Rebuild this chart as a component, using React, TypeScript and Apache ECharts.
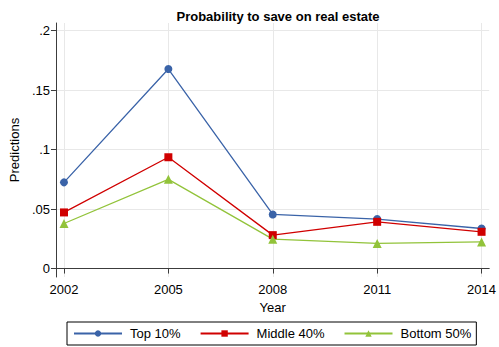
import React, { useEffect, useRef } from "react";
import * as echarts from "echarts";

const years = [2002, 2005, 2008, 2011, 2014];
const top10 = [0.0725, 0.1678, 0.0455, 0.0416, 0.0337];
const middle40 = [0.0472, 0.0936, 0.0281, 0.0393, 0.0309];
const bottom50 = [0.0379, 0.075, 0.0247, 0.0211, 0.0224];
const yTicks = [0, 0.05, 0.1, 0.15, 0.2];
const seriesNames = ["Top 10%", "Middle 40%", "Bottom 50%"];

const FONT = "'Liberation Sans', Arial, Helvetica, sans-serif";

export default function App() {
  const ref = useRef<HTMLDivElement>(null);
  useEffect(() => {
    if (!ref.current) return;
    const chart = echarts.init(ref.current, undefined, { renderer: "svg" });
    const mk = (vals: number[]) => years.map((y, i) => [y, vals[i]]);
    const fmtY = (v: number) => (v === 0 ? "0" : String(v).replace(/^0/, ""));
    chart.setOption({
      animation: false,
      backgroundColor: "#ffffff",
      textStyle: { fontFamily: FONT },
      title: {
        text: "Probability to save on real estate",
        left: 273,
        textAlign: "center",
        top: 5,
        textStyle: { fontSize: 13, fontWeight: "bold", color: "#000", fontFamily: FONT },
      },
      grid: { left: 55, right: 7, top: 23, bottom: 70, containLabel: false },
      xAxis: {
        type: "value",
        min: 2001.77,
        max: 2014.22,
        name: "Year",
        nameLocation: "middle",
        nameGap: 23,
        nameTextStyle: { fontSize: 13, color: "#000", fontFamily: FONT },
        axisLine: { show: true, lineStyle: { color: "#3c3c3c", width: 1 } },
        axisTick: { show: true, length: 5, inside: false, customValues: years, lineStyle: { color: "#3c3c3c" } },
        axisLabel: { customValues: years, fontSize: 13, color: "#000", margin: 6, fontFamily: FONT, formatter: (v: number) => String(v) },
        splitLine: { show: true, lineStyle: { color: "#e8e8e8", width: 1 } },
      },
      yAxis: {
        type: "value",
        min: -0.0071,
        max: 0.2065,
        name: "Predictions",
        nameLocation: "middle",
        nameRotate: 90,
        nameGap: 33,
        nameTextStyle: { fontSize: 13, color: "#000", fontFamily: FONT },
        axisLine: { show: true, lineStyle: { color: "#3c3c3c", width: 1 } },
        axisTick: { show: true, length: 5, inside: false, customValues: yTicks, lineStyle: { color: "#3c3c3c" } },
        axisLabel: { customValues: yTicks, fontSize: 13, color: "#000", margin: 6, formatter: fmtY, fontFamily: FONT },
        splitLine: { show: true, lineStyle: { color: "#e8e8e8", width: 1 } },
      },
      legend: {
        left: 67,
        top: 322,
        orient: "horizontal",
        borderColor: "#000",
        borderWidth: 1,
        padding: [5, 5, 5, 6],
        itemWidth: 48,
        itemHeight: 8,
        itemGap: 19,
        textStyle: { fontSize: 13, color: "#000", fontFamily: FONT, padding: [0, 0, 0, 3] },
        data: seriesNames,
      },
      series: [
        {
          name: seriesNames[0],
          type: "line",
          data: mk(top10),
          symbol: "circle",
          symbolSize: 8,
          color: "#3a63a8",
          lineStyle: { width: 1.3, color: "#3a63a8" },
          itemStyle: { color: "#3a63a8" },
        },
        {
          name: seriesNames[1],
          type: "line",
          data: mk(middle40),
          symbol: "rect",
          symbolSize: 8,
          color: "#d00000",
          lineStyle: { width: 1.3, color: "#d00000" },
          itemStyle: { color: "#d00000" },
        },
        {
          name: seriesNames[2],
          type: "line",
          data: mk(bottom50),
          symbol: "triangle",
          symbolSize: 9,
          color: "#92c33a",
          lineStyle: { width: 1.3, color: "#92c33a" },
          itemStyle: { color: "#92c33a" },
        },
      ],
    });
    return () => chart.dispose();
  }, []);
  return <div ref={ref} style={{ position: "absolute", left: 0, top: 0, width: 499, height: 347 }} />;
}
